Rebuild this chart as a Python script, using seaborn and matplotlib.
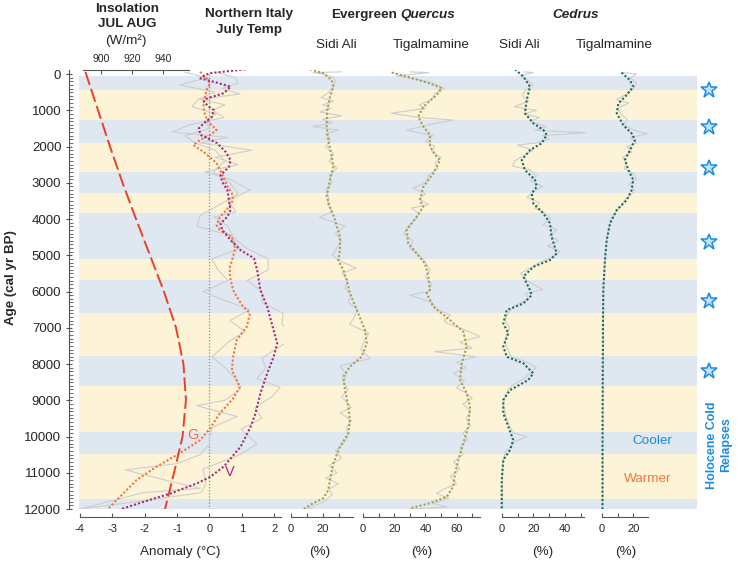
import matplotlib
matplotlib.use("Agg")
import matplotlib.pyplot as plt
import seaborn as sns

sns.set_style("ticks")
plt.rcParams["font.family"] = ["Liberation Sans", "DejaVu Sans"]
plt.rcParams["axes.unicode_minus"] = False

# ---------------- data ----------------
# cold relapse bands (cal yr BP)
cold_bands = [(50, 450), (1270, 1910), (2690, 3290), (3840, 5100), (5680, 6580),
              (7790, 8620), (9870, 10480), (11720, 12000)]
warm_bands = [(450, 1270), (1910, 2690), (3290, 3840), (5100, 5680), (6580, 7790),
              (8620, 9870), (10480, 11720)]
star_ages = [450, 1460, 2600, 4630, 6250, 8180]

# July-August insolation (W/m2)
ins_age = [-60, 0, 1000, 2000, 3000, 4000, 5000, 6000, 7000, 8000, 9000, 10000, 11000, 12000]
ins_val = [890.0, 890.4, 898.1, 905.8, 913.9, 922.6, 931.6, 940.6, 948.4, 953.2, 954.8,
           952.6, 947.1, 941.3]

# Northern Italy July temperature anomaly, smoothed V and G records
v_age = [-130, -20, 120, 240, 350, 530, 670, 760, 900, 990, 1180, 1360, 1500, 1680, 1770,
         1910, 2140, 2370, 2560, 2790, 2970, 3200, 3480, 3750, 3940, 4120, 4300, 4580, 4860,
         5080, 5410, 5680, 5960, 6420, 7430, 7800, 8260, 8810, 9360, 9730, 10280, 10830,
         11110, 11290, 11570, 11800, 12010]
v_val = [1.11, -0.02, -0.28, 0.24, 0.65, 0.44, -0.07, -0.18, -0.02, 0.13, 0.08, -0.18,
         -0.33, -0.28, -0.07, 0.24, 0.49, 0.65, 0.60, 0.34, 0.39, 0.55, 0.60, 0.65, 0.55,
         0.34, 0.39, 0.65, 0.96, 1.37, 1.47, 1.52, 1.57, 1.78, 2.09, 1.98, 1.78, 1.57, 1.42,
         1.27, 0.96, 0.44, 0.03, -0.38, -1.20, -2.03, -2.75]
g_age = [-60, 120, 260, 440, 630, 900, 1130, 1320, 1540, 1680, 1820, 1960, 2140, 2460,
         2740, 3060, 3290, 3480, 3750, 3940, 4170, 4300, 4490, 4810, 5040, 5320, 5590, 5960,
         6140, 6420, 6600, 6970, 7340, 7800, 8170, 8440, 8630, 8950, 9360, 9770, 10100,
         10460, 10830, 11200, 11660, 12030]
g_val = [-0.29, -0.09, 0.02, -0.09, -0.14, -0.19, -0.14, -0.04, 0.22, 0.02, -0.29, -0.50,
         -0.19, 0.22, 0.38, 0.53, 0.69, 0.73, 0.53, 0.32, 0.22, 0.32, 0.69, 0.79, 0.73,
         0.63, 0.63, 0.73, 0.84, 1.04, 1.25, 1.15, 0.84, 0.73, 0.69, 0.84, 0.94, 0.73, 0.32,
         0.02, -0.29, -0.91, -1.63, -2.25, -2.76, -3.17]
# raw temperature reconstructions
v_raw_age = [-50, 100, 250, 400, 550, 700, 850, 1000, 1200, 1400, 1600, 1750, 1900, 2100,
             2300, 2500, 2700, 2900, 3200, 3500, 3800, 3950, 4200, 4500, 4800, 5100, 5400,
             5700, 6000, 6300, 6600, 6900, 7300, 7600, 7850, 8100, 8400, 8650, 8900, 9200,
             9500, 9800, 10200, 10500, 10900, 11300, 11550, 11750, 12000]
v_raw_val = [0.23, 0.79, 0.88, 0.39, 0.94, -0.29, 0.48, 0.08, 0.45, -0.60, -1.16, 0.57,
             -0.29, 1.31, 0.17, 0.88, -0.14, 0.63, 1.25, 0.57, 0.82, 0.14, 0.57, 0.73, 1.13,
             1.81, 1.81, 1.16, 1.62, 1.62, 2.27, 2.24, 2.58, 2.02, 1.62, 1.74, 1.47, 2.18,
             1.93, 1.40, 1.62, 0.97, 1.47, 0.94, -0.20, -0.11, -0.26, -1.84, -4.0]
g_raw_age = [-50, 100, 300, 500, 700, 900, 1100, 1300, 1500, 1700, 1900, 2100, 2400, 2700,
             3000, 3300, 3600, 3900, 4200, 4450, 4800, 5100, 5400, 5700, 6000, 6200, 6500,
             6800, 7100, 7400, 7800, 8100, 8400, 8700, 9000, 9150, 9450, 9750, 10000, 10200,
             10500, 10750, 10920, 11200, 11430, 11550, 12000]
g_raw_val = [-0.76, -0.08, -0.91, 0.17, -0.35, -0.54, 0.20, -0.14, 0.0, -0.76, -0.45, 0.17,
             0.48, 0.11, 0.63, 0.88, 0.32, -0.29, -0.39, 0.63, 0.94, 0.08, 0.26, 0.57, -0.20,
             0.32, 1.25, 0.63, 1.10, 0.57, 0.08, 0.48, 0.79, 0.94, 0.48, -0.39, 0.85, 0.08,
             0.0, 0.0, -0.29, -1.0, -2.6, -1.37, -0.29, -2.05, -4.0]

# Evergreen Quercus, Sidi Ali (%)
qs_age = [-130, -20, 170, 350, 630, 990, 1450, 1820, 2280, 2560, 2920, 3380, 3660, 4030,
          4490, 4860, 5130, 5410, 5680, 6050, 6510, 7060, 7430, 7800, 8070, 8350, 8720, 9180,
          9540, 9910, 10280, 10740, 11200, 11480, 11700, 11890, 12010]
qs_val = [12.0, 20.4, 25.7, 26.7, 24.6, 22.9, 22.5, 23.5, 25.7, 26.7, 24.6, 22.5, 24.6,
          27.8, 30.9, 30.9, 29.8, 33.0, 35.1, 37.2, 41.5, 46.7, 47.8, 44.6, 37.2, 33.0, 34.1,
          36.2, 37.2, 36.2, 30.9, 26.7, 24.6, 23.5, 20.4, 12.0, 7.8]
qs_raw_age = [-60, -40, 0, 100, 200, 350, 500, 650, 750, 850, 950, 1050, 1150, 1250, 1350,
              1450, 1550, 1650, 1800, 2000, 2200, 2400, 2600, 2800, 3000, 3200, 3400, 3600,
              3800, 3950, 4100, 4200, 4400, 4600, 4800, 5000, 5200, 5350, 5500, 5700, 5900,
              6100, 6300, 6500, 6700, 6900, 7150, 7400, 7600, 7850, 8050, 8300, 8500, 8700,
              8900, 9200, 9350, 9550, 9750, 10000, 10200, 10400, 10600, 10800, 11000, 11150,
              11300, 11450, 11600, 11800, 12000]
qs_raw_val = [32, 14, 20, 27, 28, 27, 24, 19, 27, 20, 25, 18, 32, 20, 26, 14, 30, 22, 25,
              22, 27, 24, 29, 24, 26, 22, 24, 23, 26, 18, 28, 34, 28, 32, 29, 26, 33, 41, 32,
              36, 34, 38, 36, 42, 40, 37, 49, 46, 44, 50, 31, 35, 33, 36, 32, 38, 31, 38, 35,
              36, 33, 28, 32, 24, 29, 22, 30, 24, 26, 21, 10]

# Evergreen Quercus, Tigalmamine (%)
qt_age = [-40, 70, 260, 390, 580, 900, 1180, 1450, 1680, 2000, 2280, 2370, 2740, 3110, 3480,
          3660, 3940, 4300, 4670, 4950, 5220, 5590, 5960, 6050, 6420, 6790, 7110, 7520, 7980,
          8440, 8810, 9180, 9730, 10190, 10650, 11020, 11380, 11660, 11840, 11980]
qt_val = [18.4, 28.0, 42.9, 50.4, 47.2, 38.7, 35.4, 38.7, 42.9, 42.9, 47.2, 49.4, 45.1,
          38.7, 36.5, 38.7, 34.4, 28.0, 29.0, 34.4, 39.7, 41.9, 42.9, 40.8, 45.1, 55.8, 64.3,
          66.5, 63.3, 62.2, 66.5, 68.6, 67.5, 64.3, 61.1, 59.0, 57.9, 53.7, 42.9, 30.1]
qt_raw_age = [-60, -40, 50, 150, 250, 400, 550, 700, 850, 950, 1080, 1200, 1270, 1400, 1550,
              1700, 1850, 2000, 2150, 2300, 2450, 2600, 2800, 3000, 3150, 3300, 3450, 3600,
              3700, 3850, 4000, 4200, 4400, 4600, 4800, 5000, 5200, 5400, 5600, 5800, 6000,
              6100, 6300, 6500, 6650, 6800, 6880, 7000, 7240, 7400, 7560, 7660, 7800, 7950,
              8100, 8260, 8450, 8650, 8800, 8950, 9100, 9300, 9500, 9700, 9900, 10100, 10300,
              10500, 10700, 10900, 11100, 11300, 11450, 11570, 11700, 11850, 11950, 12000]
qt_raw_val = [30, 42, 22, 35, 45, 52, 46, 44, 36, 40, 18, 36, 58, 42, 28, 45, 40, 46, 44,
              50, 46, 48, 42, 40, 32, 40, 36, 42, 31, 36, 34, 29, 26, 32, 30, 36, 40, 43, 40,
              44, 42, 30, 44, 48, 56, 52, 54, 62, 75, 62, 70, 46, 72, 60, 66, 58, 65, 60, 66,
              70, 64, 69, 66, 69, 64, 67, 62, 64, 58, 62, 56, 60, 52, 47, 55, 45, 54, 30]

# Cedrus, Sidi Ali (%)
cs_age = [-130, 70, 350, 720, 1080, 1360, 1540, 1680, 1910, 2100, 2370, 2650, 2920, 3110,
          3290, 3570, 3840, 4120, 4490, 4950, 5130, 5320, 5590, 5960, 6100, 6330, 6510, 6880,
          7150, 7520, 7800, 7980, 8260, 8440, 8720, 8990, 9360, 9730, 10100, 10370, 10650,
          11200, 12010]
cs_val = [8.4, 13.7, 17.9, 15.8, 14.7, 20.0, 26.3, 28.5, 25.3, 17.9, 12.7, 14.7, 21.1, 22.2,
          19.0, 20.0, 26.3, 30.6, 31.6, 34.8, 30.6, 20.0, 13.7, 17.9, 19.0, 13.7, 3.2, 1.0,
          4.2, 1.0, 3.2, 13.7, 20.0, 16.8, 5.3, 1.0, 1.0, 4.2, 7.3, 5.3, 1.0, 0.0, 0.0]
cs_raw_age = [-60, -40, 50, 150, 300, 450, 600, 750, 900, 1000, 1100, 1200, 1300, 1450, 1550,
              1620, 1700, 1800, 1900, 1960, 2100, 2250, 2400, 2540, 2650, 2800, 2950, 3100,
              3250, 3400, 3550, 3700, 3850, 4000, 4150, 4300, 4450, 4600, 4750, 4900, 5050,
              5200, 5350, 5500, 5700, 5850, 5950, 6050, 6200, 6400, 6600, 6800, 7000, 7200,
              7400, 7600, 7800, 7950, 8100, 8250, 8400, 8550, 8700, 8900, 9100, 9300, 9500,
              9700, 9900, 10000, 10150, 10300, 10450, 10650, 11000, 12000]
cs_raw_val = [14, 20, 12, 16, 20, 15, 13, 17, 8, 22, 14, 24, 18, 28, 21, 53, 26, 30, 22, 10,
              20, 14, 8, 7, 18, 22, 18, 26, 20, 16, 24, 21, 28, 31, 26, 35, 30, 36, 29, 37,
              32, 24, 18, 12, 16, 22, 26, 15, 17, 8, 4, 2, 5, 3, 2, 4, 6, 16, 22, 18, 14, 8,
              4, 2, 1, 2, 3, 5, 7, 16, 8, 5, 2, 1, 0.5, 0.5]

# Cedrus, Tigalmamine (%)
ct_age = [-40, 170, 350, 580, 810, 1080, 1410, 1640, 1820, 2100, 2370, 2650, 2920, 3200,
          3480, 3750, 4120, 4580, 5130, 5960, 7000, 8000, 9000, 10000, 12000]
ct_val = [12.5, 17.8, 19.9, 15.7, 10.4, 9.4, 13.6, 18.9, 21.0, 17.8, 14.6, 16.8, 19.9, 18.9,
          15.7, 9.4, 5.1, 3.0, 1.9, 0.8, 0.6, 0.5, 0.4, 0.3, 0.3]
ct_raw_age = [-40, 0, 100, 250, 400, 550, 700, 800, 950, 1100, 1250, 1400, 1550, 1650, 1750,
              1900, 2000, 2150, 2300, 2450, 2600, 2750, 2900, 3050, 3200, 3350, 3500, 3650,
              3800, 4000, 4300, 4600, 5000, 6000, 12000]
ct_raw_val = [13, 22, 18, 22, 20, 16, 9, 17, 10, 12, 16, 14, 20, 29, 18, 22, 16, 19, 13, 16,
              14, 20, 22, 17, 21, 18, 14, 12, 9, 6, 4, 3, 2, 1, 0.5]

# ---------------- figure ----------------
W, H = 737, 562
Y_TOP, Y_BOT = 70.4, 509.0
fig = plt.figure(figsize=(W / 100, H / 100), dpi=100)

GRAY = "#cdcdcd"
SPINE = "#555555"
BLUE = "#1a8ce0"


def px_rect(x0, x1):
    return [x0 / W, 1 - Y_BOT / H, (x1 - x0) / W, (Y_BOT - Y_TOP) / H]


def fig_text(x, y, s, **kw):
    fig.text(x / W, 1 - y / H, s, **kw)


# background bands
ax_bg = fig.add_axes(px_rect(79, 697))
for a, b in cold_bands:
    ax_bg.axhspan(a, b, color="#dfe7f0", lw=0)
for a, b in warm_bands:
    ax_bg.axhspan(a, b, color="#fdf4d8", lw=0)
ax_bg.set_ylim(12000, -100)
ax_bg.axis("off")


def make_panel(zero_px, scale, lo, hi, bounds, ticks, every=1):
    ax = fig.add_axes(px_rect(zero_px + lo * scale, zero_px + hi * scale))
    ax.patch.set_alpha(0)
    ax.set_xlim(lo, hi)
    ax.set_ylim(12000, -100)
    for s in ["top", "right", "left"]:
        ax.spines[s].set_visible(False)
    ax.spines["bottom"].set_position(("outward", 5.8))
    ax.spines["bottom"].set_bounds(*bounds)
    ax.spines["bottom"].set_color(SPINE)
    ax.set_xticks(ticks)
    ax.set_xticklabels([str(t) if (t % every == 0) else "" for t in ticks])
    ax.tick_params(axis="x", direction="in", length=3, width=0.8, color=SPINE,
                   labelsize=8, pad=5)
    ax.tick_params(axis="y", left=False, labelleft=False)
    return ax


def trace(ax, vals, ages, color, ls="-", lw=0.8, z=2):
    sns.lineplot(x=vals, y=ages, ax=ax, orient="y", sort=False, estimator=None,
                 color=color, linestyle=ls, linewidth=lw, zorder=z)
    ax.set_xlabel("")
    ax.set_ylabel("")


# panel 1: temperature anomaly + insolation
ax1 = make_panel(209.5, 32.4, -4.05, 2.3, (-4, 2.2), [-4, -3, -2, -1, 0, 1, 2])
ax1.vlines(0, 0, 12000, color="#8a8a8a", lw=0.9, linestyles=(0, (1, 1.5)), zorder=1)
trace(ax1, v_raw_val, v_raw_age, GRAY)
trace(ax1, g_raw_val, g_raw_age, GRAY)
trace(ax1, g_val, g_age, "#f4743b", (0, (1, 1)), 1.5, 4)
trace(ax1, v_val, v_age, "#a32a7d", (0, (1, 1)), 1.5, 4)
ax1.set_ylim(12000, -100)
ax1.spines["left"].set_visible(True)
ax1.spines["left"].set_position(("outward", 6.7))
ax1.spines["left"].set_color(SPINE)
ax1.set_yticks(range(0, 12001, 1000))
ax1.set_yticks(range(0, 12001, 100), minor=True)
ax1.tick_params(axis="y", which="major", left=True, labelleft=True, direction="inout",
                length=5, width=0.8, color=SPINE, labelsize=9.5, pad=3)
ax1.tick_params(axis="y", which="minor", left=True, direction="in", length=3,
                width=0.6, color=SPINE)
ax1.text(-0.52, 9960, "G", color="#f4743b", fontsize=10.5, ha="center", va="center")
ax1.text(0.63, 10970, "V", color="#a32a7d", fontsize=10.5, ha="center", va="center")

ax_ins = ax1.twiny()
ax_ins.patch.set_alpha(0)
trace(ax_ins, ins_val, ins_age, "#e8402a", (0, (7, 2.2)), 1.4, 3)
ax_ins.set_xlim(900 - (101 - 78.28) / 1.55, 900 + (284.0 - 101) / 1.55)
ax_ins.set_ylim(12000, -100)
for s in ["bottom", "right", "left"]:
    ax_ins.spines[s].set_visible(False)
ax_ins.spines["top"].set_bounds(888.4, 956.8)
ax_ins.spines["top"].set_color(SPINE)
ax_ins.set_xticks([900, 920, 940])
ax_ins.tick_params(axis="x", direction="in", length=3, width=0.8, color=SPINE,
                   labelsize=7.5, pad=4.5)
ax_ins.tick_params(axis="y", left=False, right=False, labelleft=False, labelright=False)

# pollen panels
ax2 = make_panel(291, 1.585, -1, 55, (0, 39), [0, 10, 20, 30], 20)
trace(ax2, qs_raw_val, qs_raw_age, GRAY)
trace(ax2, qs_val, qs_age, "#a89c52", (0, (1, 1)), 1.5, 4)

ax3 = make_panel(363, 1.56, -1, 80, (0, 75), list(range(0, 71, 10)), 20)
trace(ax3, qt_raw_val, qt_raw_age, GRAY)
trace(ax3, qt_val, qt_age, "#a89c52", (0, (1, 1)), 1.5, 4)

ax4 = make_panel(501.7, 1.58, -1, 56, (0, 52), list(range(0, 51, 10)), 20)
trace(ax4, cs_raw_val, cs_raw_age, GRAY)
trace(ax4, cs_val, cs_age, "#1d6b5a", (0, (1, 1)), 1.5, 4)

ax5 = make_panel(602, 1.57, -1, 35, (0, 29.5), [0, 10, 20], 20)
trace(ax5, ct_raw_val, ct_raw_age, GRAY)
trace(ax5, ct_val, ct_age, "#1d6b5a", (0, (1, 1)), 1.5, 4)

for ax in [ax1, ax2, ax3, ax4, ax5]:
    ax.set_ylim(12000, -100)

# stars for cold relapses
ax_st = fig.add_axes([700 / W, 1 - Y_BOT / H, 17 / W, (Y_BOT - Y_TOP) / H])
ax_st.plot([0.5] * len(star_ages), star_ages, ls="none", marker="*", markersize=12,
           mfc="#c2e2f8", mec=BLUE, mew=1.1)
ax_st.set_xlim(0, 1)
ax_st.set_ylim(12000, -100)
ax_st.axis("off")

# ---------------- texts ----------------
bold = dict(fontsize=9.7, fontweight="bold", ha="center", va="center")
reg = dict(fontsize=9.7, ha="center", va="center")
fig_text(127, 8.5, "Insolation", **bold)
fig_text(127, 24, "JUL AUG", **bold)
fig_text(126, 41, "(W/m²)", **reg)
fig_text(249, 14.5, "Northern Italy", **bold)
fig_text(249, 30, "July Temp", **bold)
fig_text(396.5, 15, "Evergreen", fontsize=9.7, fontweight="bold", ha="right", va="center")
fig_text(400.5, 15, "Quercus", fontsize=9.7, fontweight="bold", style="italic",
         ha="left", va="center")
fig_text(576, 15, "Cedrus", fontsize=9.7, fontweight="bold", style="italic",
         ha="center", va="center")
fig_text(336, 45, "Sidi Ali", **reg)
fig_text(431, 45, "Tigalmamine", **reg)
fig_text(519, 45, "Sidi Ali", **reg)
fig_text(614, 45, "Tigalmamine", **reg)

fig_text(11.5, 277.5, "Age (cal yr BP)", fontsize=9.6, fontweight="bold", rotation=90,
         ha="center", va="center")
fig_text(180, 552, "Anomaly (°C)", **reg)
for xc in [320, 421.5, 543, 625.5]:
    fig_text(xc, 552, "(%)", **reg)

fig_text(652, 441, "Cooler", fontsize=9.7, color=BLUE, ha="center", va="center")
fig_text(648, 479, "Warmer", fontsize=9.7, color="#f07838", ha="center", va="center")
fig_text(719, 445, "Holocene Cold\nRelapses", fontsize=9, fontweight="bold", color=BLUE,
         rotation=90, ha="center", va="center", multialignment="center", linespacing=1.15)

fig.savefig("out.png", dpi=100)
